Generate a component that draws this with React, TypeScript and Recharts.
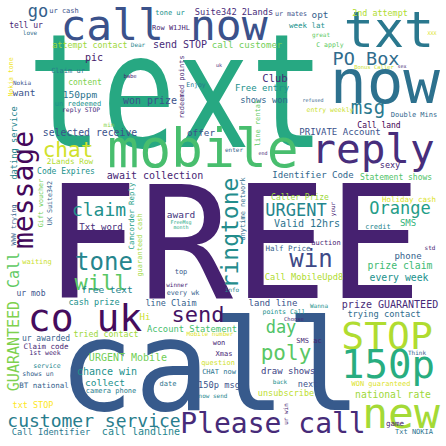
import { ScatterChart, Scatter, XAxis, YAxis } from 'recharts'

// [word, x, y, font size, viridis shade]; x/y = anchor (centre x, baseline y)
const bigWords: [string, number, number, number, number][] = [
  ['text', 176, 147, 158, 0.6],
  ['FREE', 233, 298, 157, 0.09],
  ['call', 210, 410, 126, 0.28],
  ['mobile', 203, 167, 53, 0.7],
  ['call now', 164, 40, 43, 0.25],
  ['txt', 389, 47, 50, 0.4],
  ['now', 385, 103, 61, 0.37],
  ['reply', 373, 163, 41, 0.13],
  ['co uk', 85, 331, 38, 0.03],
  ['STOP', 387, 349, 38, 0.88],
  ['150p', 388, 378, 39, 0.62],
  ['new', 401, 428, 43, 0.86],
  ['Please call', 273, 433, 28, 0.12],
]

const midWords: [string, number, number, number, number][] = [
  ['send', 198, 322, 22, 0.05],
  ['chat', 68, 157, 21, 0.93],
  ['tone', 104, 270, 24, 0.45],
  ['will', 101, 290, 22, 0.74],
  ['claim', 99, 216, 18, 0.5],
  ['day', 281, 333, 17, 0.72],
  ['poly', 286, 360, 21, 0.74],
  ['win', 311, 267, 24, 0.22],
  ['URGENT', 296, 216, 17, 0.45],
  ['Orange', 400, 214, 17, 0.55],
  ['PO Box', 366, 65, 18.5, 0.35],
  ['msg', 368, 114, 19, 0.4],
  ['customer service', 94, 427, 18, 0.42],
  ['go', 38, 17, 17, 0.3],
]

const smallWords: [string, number, number, number, number][] = [
  ['Club', 275, 82, 10.5, 0.12],
  ['send STOP', 180, 48, 10, 0.12],
  ['selected receive', 90, 136, 9.8, 0.25],
  ['won prize', 150, 104, 10, 0.25],
  ['await collection', 155, 179, 10, 0.1],
  ['Free entry', 262, 91, 9, 0.5],
  ['shows won', 264, 103, 8.8, 0.33],
  ['PRIVATE Account', 340, 135, 9, 0.25],
  ['Identifier Code', 313, 178, 9, 0.33],
  ['Statement shows', 396, 180, 8, 0.72],
  ['call customer', 247, 48, 9, 0.78],
  ['attempt contact', 90, 48, 8.3, 0.85],
  ['Suite342 2Lands', 234, 15, 8.7, 0.12],
  ['2nd attempt', 380, 16, 8.4, 0.88],
  ['Call land', 379, 128, 8, 0.0],
  ['Double Mins', 414, 117, 7, 0.33],
  ['offer', 201, 136, 9.3, 0.25],
  ['150ppm', 80, 98, 9.5, 0.38],
  ['want', 24, 96, 9.5, 0.25],
  ['content', 85, 85, 8, 0.8],
  ['pic', 94, 61, 10, 0.07],
  ['Claim ur', 68, 73, 7, 0.4],
  ['un redeemed', 78, 106, 7, 0.5],
  ['reply STOP', 81, 112, 6.3, 0.12],
  ['tell ur', 26, 28, 8, 0.1],
  ['love', 30, 35, 6, 0.35],
  ['ur cash', 64, 13, 7, 0.25],
  ['tone ur', 170, 15, 7, 0.5],
  ['ur mates', 291, 16, 6.7, 0.25],
  ['opt', 320, 18, 9.4, 0.3],
  ['Row W1JHL', 171, 30, 7, 0.1],
  ['week lat', 307, 28, 7.5, 0.5],
  ['great', 321, 37, 6, 0.75],
  ['Dear', 138, 47, 6, 0.45],
  ['C apply', 330, 47, 6.5, 0.75],
  ['Bonus Caller', 374, 69, 5.5, 0.92],
  ['sex', 402, 68, 5, 0.1],
  ['babe', 130, 78, 5.5, 0.1],
  ['Nokia', 22, 85, 6, 0.25],
  ['Enjoy', 196, 87, 6.5, 0.4],
  ['entry weekly', 330, 112, 6.5, 0.92],
  ['min', 109, 127, 6, 0.82],
  ['enter', 234, 152, 6, 0.3],
  ['2Lands Row', 70, 164, 7.7, 0.88],
  ['Code Expires', 66, 174, 8, 0.5],
  ['sexy', 390, 168, 8.5, 0.1],
  ['Txt word', 101, 230, 9, 0.12],
  ['award', 181, 218, 9.5, 0.15],
  ['FreeMsg', 181, 224, 5, 0.6],
  ['month', 181, 229, 5, 0.6],
  ['Caller Prize', 300, 200, 8, 0.85],
  ['Valid 12hrs', 307, 227, 10, 0.38],
  ['Holiday cash', 409, 202, 7.5, 0.95],
  ['SMS', 408, 226, 9, 0.65],
  ['credit', 378, 229, 7, 0.45],
  ['auction', 326, 245, 7, 0.1],
  ['Half Price', 288, 251, 7.5, 0.3],
  ['std', 430, 250, 6, 0.1],
  ['phone', 408, 259, 9, 0.3],
  ['prize claim', 400, 269, 9.8, 0.68],
  ['Call MobileUpd8', 304, 280, 8.7, 0.88],
  ['every week', 399, 281, 9.8, 0.5],
  ['info', 232, 292, 6, 0.45],
  ['waiting', 37, 264, 7, 0.92],
  ['top', 181, 274, 7, 0.28],
  ['free text', 107, 293, 9.5, 0.45],
  ['winner', 177, 287, 6, 0.1],
  ['every wk', 183, 295, 6.8, 0.3],
  ['ur mob', 31, 296, 8, 0.25],
  ['cash prize', 94, 305, 8.5, 0.5],
  ['line Claim', 171, 306, 8.5, 0.3],
  ['land line', 273, 306, 9, 0.25],
  ['prize GUARANTEED', 390, 308, 10, 0.12],
  ['Wanna', 319, 308, 6, 0.5],
  ['points Call', 284, 314, 6.5, 0.5],
  ['Choose', 294, 321, 5.5, 0.1],
  ['trying contact', 384, 317, 8.7, 0.35],
  ['Hi', 145, 320, 9, 0.92],
  ['Account Statement', 192, 332, 8.8, 0.7],
  ['Mobile number', 210, 336, 6, 0.95],
  ['tried contact', 106, 337, 8.3, 0.85],
  ['ur awarded', 46, 341, 8, 0.3],
  ['Claim code', 46, 349, 7.5, 0.1],
  ['1st week', 45, 355, 6.5, 0.1],
  ['service', 47, 368, 6.5, 0.45],
  ['shows un', 38, 376, 6.5, 0.3],
  ['BT national', 44, 388, 7.5, 0.3],
  ['txt STOP', 33, 408, 8.5, 1.0],
  ['URGENT Mobile', 128, 361, 10, 0.78],
  ['chance win', 107, 375, 10, 0.5],
  ['collect', 105, 386, 9.5, 0.5],
  ['camera phone', 111, 393, 7, 0.42],
  ['date', 168, 386, 7, 0.38],
  ['150p msg', 219, 388, 8.7, 0.25],
  ['question', 218, 365, 7, 0.93],
  ['Xmas', 224, 356, 7, 0.1],
  ['CHAT now', 219, 374, 7, 0.38],
  ['won', 219, 345, 7, 0.1],
  ['now send', 213, 398, 6, 0.45],
  ['SMS ac', 309, 343, 7, 0.1],
  ['draw shows', 288, 374, 9, 0.2],
  ['back', 280, 384, 6, 0.5],
  ['next', 308, 387, 8.5, 0.25],
  ['unsubscribe', 286, 396, 8.5, 0.9],
  ['WON guaranteed', 381, 386, 7, 0.95],
  ['national rate', 393, 398, 9.7, 0.85],
  ['Think', 417, 355, 6, 0.3],
  ['game', 395, 426, 7.5, 0.1],
  ['Txt NOKIA', 414, 434, 7, 0.38],
  ['Call Identifier', 51, 435, 8.7, 0.4],
  ['call landline', 141, 435, 10, 0.45],
  ['XXX', 432, 35, 5, 0.95],
  ['refused', 313, 102, 5, 0.3],
  ['uk', 219, 67, 5, 0.1],
  ['end', 263, 155, 5, 0.1],
]

// vertical words, read bottom to top; x = baseline, y = centre
const upWords: [string, number, number, number, number][] = [
  ['message', 33, 190, 28, 0.02],
  ['ringtone', 238, 233, 23, 0.48],
  ['anytime network', 245, 209, 7, 0.35],
  ['GUARANTEED', 19, 346, 15, 0.8],
  ['Call', 19, 270, 15, 0.75],
  ['dating service', 17, 143, 8.7, 0.45],
  ['Nokia tone', 13, 77, 6.5, 0.98],
  ['redeemed points', 184, 87, 7, 0.1],
  ['line rental', 260, 123, 7, 0.75],
  ['Gift voucher', 43, 203, 6.7, 0.78],
  ['UK Suite342', 52, 203, 6.7, 0.3],
  ['WWW trying', 16, 225, 6.8, 0.3],
  ['Camcorder Reply', 134, 216, 7.4, 0.55],
  ['guaranteed cash', 142, 245, 7, 0.85],
  ['your', 335, 209, 6, 0.1],
  ['ur win', 288, 414, 6, 0.1],
]

const narrowed: Record<string, number> = { text: 0.78 }

const viridis = ['#440154', '#472d7b', '#3b528b', '#2c728e', '#21918c', '#28ae80', '#5ec962', '#addc30', '#fde725']

function shadeColor(t: number) {
  const pos = Math.min(Math.max(t, 0), 1) * (viridis.length - 1)
  const i = Math.min(Math.floor(pos), viridis.length - 2)
  const f = pos - i
  const a = viridis[i], b = viridis[i + 1]
  const ch = (h: string, k: number) => parseInt(h.slice(1 + k * 2, 3 + k * 2), 16)
  const mix = [0, 1, 2].map(k => Math.round(ch(a, k) + (ch(b, k) - ch(a, k)) * f))
  return `rgb(${mix.join(',')})`
}

const toRows = (list: [string, number, number, number, number][], up: boolean) =>
  list.map(([word, x, y, size, shade]) => ({ word, x, y, size, shade, up }))

const rows = [
  ...toRows(bigWords, false),
  ...toRows(midWords, false),
  ...toRows(smallWords, false),
  ...toRows(upWords, true),
]

function Word(props: any) {
  const { cx, cy, payload } = props
  const sx = narrowed[payload.word] ?? 1
  const t = `translate(${cx},${cy})${payload.up ? ' rotate(-90)' : ''}${sx !== 1 ? ` scale(${sx},1)` : ''}`
  return (
    <text
      transform={t}
      textAnchor="middle"
      fontFamily="'DejaVu Sans Mono', monospace"
      fontSize={payload.size}
      fill={shadeColor(payload.shade)}
    >
      {payload.word}
    </text>
  )
}

export default function App() {
  return (
    <div style={{ position: 'absolute', left: 0, top: 0, width: 446, height: 446, background: '#fff' }}>
      <ScatterChart width={446} height={446} margin={{ top: 0, right: 0, bottom: 0, left: 0 }}>
        <XAxis type="number" dataKey="x" domain={[0, 446]} hide />
        <YAxis type="number" dataKey="y" domain={[0, 446]} reversed hide />
        <Scatter data={rows} shape={Word} isAnimationActive={false} />
      </ScatterChart>
    </div>
  )
}
